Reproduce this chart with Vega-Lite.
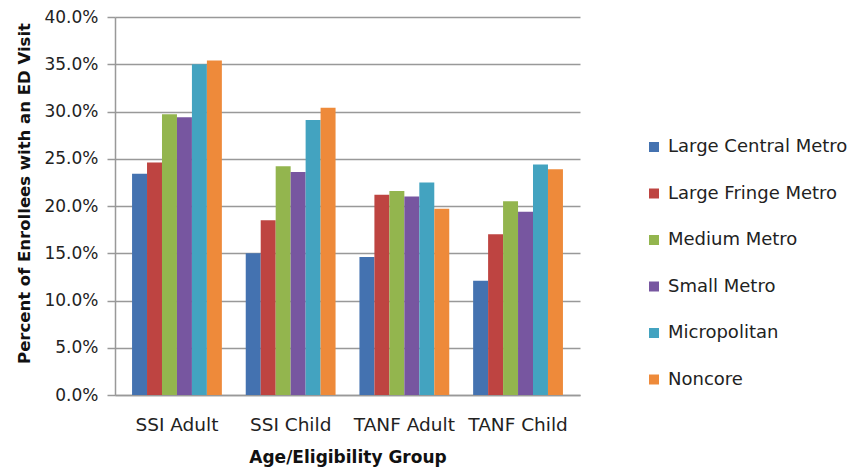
{
  "$schema": "https://vega.github.io/schema/vega-lite/v6.json",
  "width": 465,
  "height": 378,
  "autosize": {"type": "none"},
  "padding": {"left": 115, "top": 17, "right": 279, "bottom": 76},
  "background": "white",
  "config": {
    "font": "DejaVu Sans",
    "view": {"stroke": null},
    "axis": {"labelFont": "DejaVu Sans", "titleFont": "DejaVu Sans", "labelColor": "#222", "titleColor": "#111"},
    "legend": {"labelFont": "DejaVu Sans"}
  },
  "data": {
    "values": [
      {"group": "SSI Adult", "region": "Large Central Metro", "pct": 0.234},
      {"group": "SSI Adult", "region": "Large Fringe Metro", "pct": 0.246},
      {"group": "SSI Adult", "region": "Medium Metro", "pct": 0.297},
      {"group": "SSI Adult", "region": "Small Metro", "pct": 0.294},
      {"group": "SSI Adult", "region": "Micropolitan", "pct": 0.350},
      {"group": "SSI Adult", "region": "Noncore", "pct": 0.354},
      {"group": "SSI Child", "region": "Large Central Metro", "pct": 0.150},
      {"group": "SSI Child", "region": "Large Fringe Metro", "pct": 0.185},
      {"group": "SSI Child", "region": "Medium Metro", "pct": 0.242},
      {"group": "SSI Child", "region": "Small Metro", "pct": 0.236},
      {"group": "SSI Child", "region": "Micropolitan", "pct": 0.291},
      {"group": "SSI Child", "region": "Noncore", "pct": 0.304},
      {"group": "TANF Adult", "region": "Large Central Metro", "pct": 0.146},
      {"group": "TANF Adult", "region": "Large Fringe Metro", "pct": 0.212},
      {"group": "TANF Adult", "region": "Medium Metro", "pct": 0.216},
      {"group": "TANF Adult", "region": "Small Metro", "pct": 0.210},
      {"group": "TANF Adult", "region": "Micropolitan", "pct": 0.225},
      {"group": "TANF Adult", "region": "Noncore", "pct": 0.197},
      {"group": "TANF Child", "region": "Large Central Metro", "pct": 0.121},
      {"group": "TANF Child", "region": "Large Fringe Metro", "pct": 0.170},
      {"group": "TANF Child", "region": "Medium Metro", "pct": 0.205},
      {"group": "TANF Child", "region": "Small Metro", "pct": 0.194},
      {"group": "TANF Child", "region": "Micropolitan", "pct": 0.244},
      {"group": "TANF Child", "region": "Noncore", "pct": 0.239}
    ]
  },
  "mark": {"type": "bar"},
  "encoding": {
    "x": {
      "field": "group",
      "type": "nominal",
      "sort": ["SSI Adult", "SSI Child", "TANF Adult", "TANF Child"],
      "scale": {"paddingInner": 0.21, "paddingOuter": 0.15},
      "axis": {
        "title": "Age/Eligibility Group",
        "titleFontSize": 17,
        "titleFontWeight": "bold",
        "titlePadding": 16,
        "labelFontSize": 18.5,
        "labelAngle": 0,
        "labelPadding": 20,
        "ticks": false,
        "domainColor": "#999",
        "domainWidth": 1.5
      }
    },
    "xOffset": {
      "field": "region",
      "type": "nominal",
      "sort": ["Large Central Metro", "Large Fringe Metro", "Medium Metro", "Small Metro", "Micropolitan", "Noncore"],
      "scale": {"paddingInner": 0, "paddingOuter": 0}
    },
    "y": {
      "field": "pct",
      "type": "quantitative",
      "scale": {"domain": [0, 0.4], "nice": false},
      "axis": {
        "title": "Percent of Enrollees with an ED Visit",
        "titleFontSize": 16.5,
        "titleFontWeight": "bold",
        "titlePadding": 11,
        "titleY": 176,
        "format": ".1%",
        "values": [0, 0.05, 0.1, 0.15, 0.2, 0.25, 0.3, 0.35, 0.4],
        "labelFontSize": 17,
        "labelPadding": 9,
        "tickSize": 8,
        "tickColor": "#999",
        "tickWidth": 1.5,
        "domainColor": "#999",
        "domainWidth": 1.5,
        "gridColor": "#999",
        "gridWidth": 1.5
      }
    },
    "color": {
      "field": "region",
      "type": "nominal",
      "sort": ["Large Central Metro", "Large Fringe Metro", "Medium Metro", "Small Metro", "Micropolitan", "Noncore"],
      "scale": {
        "domain": ["Large Central Metro", "Large Fringe Metro", "Medium Metro", "Small Metro", "Micropolitan", "Noncore"],
        "range": ["#4472b0", "#be4441", "#93b54e", "#7756a0", "#43a3c0", "#ee8a3a"]
      },
      "legend": {
        "title": null,
        "orient": "none",
        "legendX": 530,
        "legendY": 121,
        "symbolType": "square",
        "symbolSize": 100,
        "symbolStrokeWidth": 0,
        "labelFontSize": 18,
        "labelColor": "#222",
        "labelOffset": 5,
        "rowPadding": 28.5,
        "labelLimit": 300
      }
    }
  }
}
